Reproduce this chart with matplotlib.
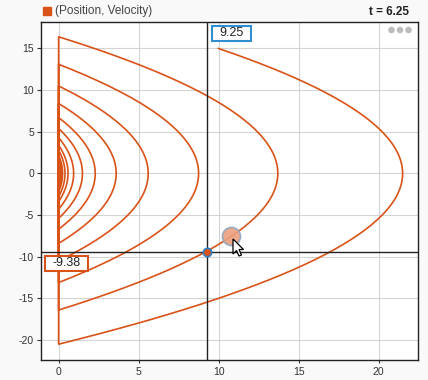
import numpy as np
import matplotlib
matplotlib.use("Agg")
import matplotlib.pyplot as plt
from matplotlib.patches import Polygon, Circle, Rectangle
from matplotlib.transforms import IdentityTransform

plt.rcParams['font.family'] = ['Liberation Sans', 'DejaVu Sans']
plt.rcParams['axes.unicode_minus'] = False

# values
start_position = 10.0
start_velocity = 15.0
# peak position of each arc and the speed at which it meets position 0
arc_peaks = [21.5, 13.7, 8.75, 5.6, 3.6, 2.29, 1.49, 0.94, 0.59, 0.40, 0.25, 0.165, 0.10, 0.06, 0.04, 0.025]
arc_speeds = [20.5, 16.4, 13.1, 10.5, 8.4, 6.7, 5.4, 4.3, 3.4, 2.8, 2.2, 1.8, 1.4, 1.1, 0.9, 0.7]
cursor_x, cursor_y = 9.25, -9.38
hover_x, hover_y = 10.75, -7.55
t_label = "t = 6.25"

line_color = "#D95319"
H = 380  # figure height in pixels, for the pixel-placed overlays

# phase curve assembled arc by arc
pos, vel = [], []
for k, (pk, sp) in enumerate(zip(arc_peaks, arc_speeds)):
    top = start_velocity if k == 0 else sp
    v = np.linspace(top, -sp, 120)
    pos.extend(pk * (1 - (v / sp) ** 2))
    vel.extend(v)

fig = plt.figure(figsize=(4.28, 3.8), dpi=100, facecolor="#F9F9F9")
ax = fig.add_axes([0.0958, 0.0526, 0.8808, 0.890])
ax.set_facecolor("white")

ax.plot(pos, vel, color=line_color, lw=1.2, zorder=3)

ax.set_xlim(-1.1, 22.46)
ax.set_ylim(-22.4, 18.2)
ax.set_xticks([0, 5, 10, 15, 20])
ax.set_yticks([-20, -15, -10, -5, 0, 5, 10, 15])
ax.grid(True, color="#D4D4D4", lw=0.8)
ax.set_axisbelow(True)
ax.tick_params(axis="y", length=3, width=0.8, labelsize=7.5, colors="#333333", pad=2)
ax.tick_params(axis="x", length=2, width=0.8, labelsize=7.5, colors="#333333", pad=3)
for s in ax.spines.values():
    s.set_color("#222222")
    s.set_linewidth(1.0)

# crosshair
ax.axvline(cursor_x, color="#222222", lw=1.0, zorder=4)
ax.axhline(cursor_y, color="#222222", lw=1.0, zorder=4)
ax.plot(cursor_x, cursor_y, "o", ms=6, mfc=line_color, mec="#2F7FC1", mew=1.2, zorder=6)
ax.plot(hover_x, hover_y, "o", ms=13, mfc="#EBA07E", mec="#8EA6BF", mew=1.2, alpha=0.9, zorder=5)


def value_box(x0, y0, x1, y1, text, edge):
    fig.patches.append(Rectangle((x0, H - y1), x1 - x0, y1 - y0, transform=IdentityTransform(),
                                 fc="white", ec=edge, lw=1.5, zorder=10))
    fig.text((x0 + x1) / 2 / 428, 1 - (y0 + y1) / 2 / H, text, fontsize=9, ha="center",
             va="center", color="#222222", zorder=11)


value_box(212, 26, 251, 41, "%.2f" % cursor_x, "#2F8FD0")
value_box(45, 256, 88, 271, "%.2f" % cursor_y, line_color)

# legend and time
fig.patches.append(Rectangle((43, H - 14.5), 7.5, 7.5, transform=IdentityTransform(),
                             color=line_color))
fig.text(55 / 428, 1 - 11 / H, "(Position, Velocity)", fontsize=8.5, va="center", color="#444444")
fig.text(409 / 428, 1 - 12 / H, t_label, fontsize=8.5, va="center", ha="right",
         fontweight="bold", color="#222222")

# toolbar dots
for dx in (391.5, 400, 408.5):
    fig.patches.append(Circle((dx, H - 30), 2.6, transform=IdentityTransform(),
                              color="#BDBDBD"))

# mouse pointer
tipx, tipy = 233, 239
arrow = [(0, 0), (0, 15), (3.5, 11.5), (6, 17), (8.5, 16), (6, 10.5), (10.5, 10.5)]
fig.patches.append(Polygon([(tipx + a, H - (tipy + b)) for a, b in arrow],
                           closed=True, transform=IdentityTransform(),
                           fc="white", ec="black", lw=0.9, zorder=20))

fig.savefig("out.png", dpi=100, facecolor=fig.get_facecolor())
